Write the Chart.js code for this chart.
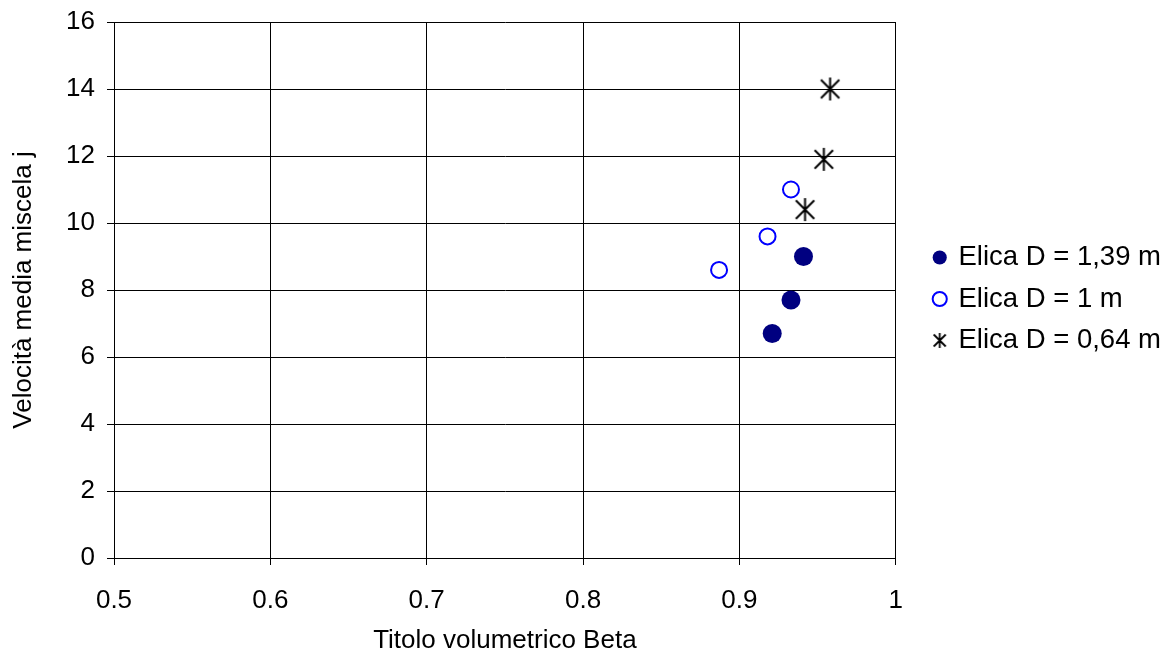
<!DOCTYPE html>
<html>
<head>
<meta charset="utf-8">
<script src="https://cdn.jsdelivr.net/npm/chart.js@4/dist/chart.umd.min.js"></script>
<style>
  html, body { margin: 0; padding: 0; background: #fff; }
  #wrap { width: 1173px; height: 656px; }
</style>
</head>
<body>
<div id="wrap"><canvas id="chart" width="1173" height="656"></canvas></div>
<script>
// dati
var seriesNames = ['Elica D = 1,39 m', 'Elica D = 1 m', 'Elica D = 0,64 m'];
var beta139 = [0.921, 0.933, 0.941];
var j139 = [6.7, 7.7, 9.0];
var beta100 = [0.887, 0.918, 0.933];
var j100 = [8.6, 9.6, 11.0];
var beta064 = [0.942, 0.954, 0.958];
var j064 = [10.4, 11.9, 14.0];

var xTicks = [0.5, 0.6, 0.7, 0.8, 0.9, 1];
var yTicks = [0, 2, 4, 6, 8, 10, 12, 14, 16];

function pairs(xs, ys) {
    var out = [];
    for (var i = 0; i < xs.length; i++) out.push({ x: xs[i], y: ys[i] });
    return out;
}

// asterisco a 6 bracci (come Excel)
function makeStar(size, lw) {
    var c = document.createElement('canvas');
    c.width = size; c.height = size;
    var g = c.getContext('2d');
    var m = size / 2, r = size / 2 - 1;
    g.strokeStyle = '#000';
    g.lineWidth = lw;
    g.beginPath();
    g.moveTo(m, m - r); g.lineTo(m, m + r);
    g.moveTo(m - r * 0.8, m - r * 0.8); g.lineTo(m + r * 0.8, m + r * 0.8);
    g.moveTo(m - r * 0.8, m + r * 0.8); g.lineTo(m + r * 0.8, m - r * 0.8);
    g.stroke();
    return c;
}
var starBig = makeStar(25, 2);
var starSmall = makeStar(17, 1.8);

var whiteBg = {
    id: 'whiteBg',
    beforeDraw: function (chart) {
        var ctx = chart.ctx;
        ctx.save();
        ctx.fillStyle = '#fff';
        ctx.fillRect(0, 0, chart.width, chart.height);
        ctx.restore();
    }
};

// sposta la legenda come nell'originale
var legendShift = {
    id: 'legendShift',
    afterLayout: function (chart) {
        var lg = chart.legend;
        if (!lg) return;
        lg.left += 25; lg.right += 25;
        lg.top += 9; lg.bottom += 9;
    }
};

var font = { family: 'Arial, "Liberation Sans", sans-serif', size: 26 };
var legendFont = { family: 'Arial, "Liberation Sans", sans-serif', size: 27.5 };

new Chart(document.getElementById('chart'), {
    type: 'scatter',
    data: {
        datasets: [{
            label: seriesNames[0],
            data: pairs(beta139, j139),
            pointStyle: 'circle',
            pointRadius: 9.5,
            backgroundColor: '#000080',
            borderColor: '#000080',
            borderWidth: 0
        }, {
            label: seriesNames[1],
            data: pairs(beta100, j100),
            pointStyle: 'circle',
            pointRadius: 8,
            backgroundColor: '#fff',
            borderColor: '#0000ff',
            borderWidth: 2
        }, {
            label: seriesNames[2],
            data: pairs(beta064, j064),
            pointStyle: starBig,
            pointRadius: 12,
            backgroundColor: '#000',
            borderColor: '#000'
        }]
    },
    options: {
        responsive: false,
        animation: false,
        layout: { padding: { top: 0, right: 27, bottom: 0, left: 0 } },
        plugins: {
            tooltip: { enabled: false },
            legend: {
                position: 'right',
                align: 'center',
                fullSize: false,
                labels: {
                    usePointStyle: true,
                    boxWidth: 10,
                    boxHeight: 10,
                    padding: 14,
                    color: '#000',
                    font: legendFont,
                    generateLabels: function (chart) {
                        var items = Chart.defaults.plugins.legend.labels.generateLabels(chart);
                        items[2].pointStyle = starSmall;
                        return items;
                    }
                }
            }
        },
        scales: {
            x: {
                type: 'linear',
                min: 0.5,
                max: 1,
                afterBuildTicks: function (s) { s.ticks = xTicks.map(function (v) { return { value: v }; }); },
                afterFit: function (s) { s.height = 98; },
                ticks: {
                    color: '#000',
                    font: font,
                    padding: 20,
                    callback: function (v) { return String(v); }
                },
                grid: { color: '#000', lineWidth: 1, tickLength: 7, drawTicks: true },
                border: { color: '#000', width: 1 },
                title: { display: true, text: 'Titolo volumetrico Beta', color: '#000', font: font, padding: { top: 4, bottom: 0 } }
            },
            y: {
                type: 'linear',
                min: 0,
                max: 16,
                afterBuildTicks: function (s) { s.ticks = yTicks.map(function (v) { return { value: v }; }); },
                afterFit: function (s) { s.width = 114; s.paddingTop = 22; },
                ticks: {
                    color: '#000',
                    font: font,
                    padding: 12
                },
                grid: { color: '#000', lineWidth: 1, tickLength: 7 },
                border: { color: '#000', width: 1 },
                title: { display: true, text: 'Velocità media miscela j', color: '#000', font: font, padding: { top: 8, bottom: 4 } }
            }
        }
    },
    plugins: [whiteBg, legendShift]
});
</script>
</body>
</html>
